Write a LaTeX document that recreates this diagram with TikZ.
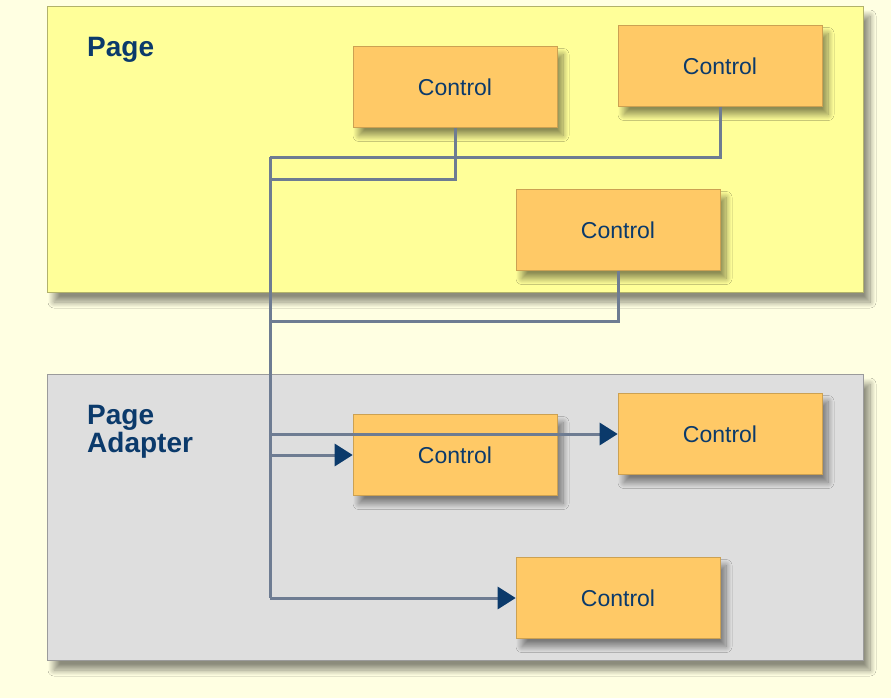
\documentclass[tikz,border=0pt]{standalone}
\usepackage{fontspec}
\setmainfont{Liberation Sans}
\usepackage{tikz}
\usetikzlibrary{arrows.meta,shadows.blur}

\definecolor{bgyellow}{HTML}{FFFFE2}
\definecolor{pageyellow}{HTML}{FFFF99}
\definecolor{adaptergray}{HTML}{DEDEDE}
\definecolor{ctrlorange}{HTML}{FFC966}
\definecolor{navy}{HTML}{0B3A6B}
\definecolor{wire}{HTML}{6E7C92}

\begin{document}
\begin{tikzpicture}[x=1pt,y=-1pt,
  panel/.style={rectangle, draw=#1!70!black, line width=0.8pt, minimum width=816pt, minimum height=286pt, inner sep=0pt,
    fill=#1, blur shadow={shadow xshift=7pt, shadow yshift=-10pt, shadow opacity=45, shadow blur radius=6pt, shadow blur steps=12}},
  control/.style={rectangle, draw=ctrlorange!80!black, line width=0.6pt, fill=ctrlorange, minimum width=204pt, minimum height=81pt,
    inner sep=0pt, text=navy, font=\fontsize{23}{26}\selectfont,
    blur shadow={shadow xshift=6pt, shadow yshift=-8pt, shadow opacity=45, shadow blur radius=6pt, shadow blur steps=12}},
  title/.style={anchor=north west, align=left, text=navy, inner sep=0pt, font=\fontsize{28}{28}\selectfont\bfseries},
  link/.style={draw=wire, line width=3pt},
  feed/.style={link, -{Triangle[length=18pt,width=22pt,fill=navy,color=navy]}}]
		\useasboundingbox (0,0) rectangle (891,698);
		\fill[bgyellow] (0,0) rectangle (891,698);
		% containers
		\node[panel=pageyellow] (page) at (455,149) {};
		\node[panel=adaptergray] (adapter) at (455,517) {};
		\node[title] (pagelbl) at (87,37) {Page};
		\node[title] (adapterlbl) at (87,405) {Page\\Adapter};
		% controls on the page
		\node[control] (c1) at (455,87) {Control};
		\node[control] (c2) at (720,66) {Control};
		\node[control] (c3) at (618,230) {Control};
		% controls on the adapter
		\node[control] (c4) at (455,455) {Control};
		\node[control] (c5) at (720,434) {Control};
		\node[control] (c6) at (618,598) {Control};
		% bus points
		\coordinate (b1) at (270,157);
		\coordinate (b2) at (270,179);
		\coordinate (b3) at (270,321);
		\coordinate (b4) at (270,434);
		\coordinate (b5) at (270,455);
		\coordinate (b6) at (270,598);
		\path[link]
			(c2.south) |- (b1)
			(c1.south) |- (b2)
			(c3.south) |- (b3)
			(b1) -- (b6);
		\draw[feed] (b4) -- (c5.west);
		\draw[feed] (b5) -- (c4.west);
		\draw[feed] (b6) -- (c6.west);
	\end{tikzpicture}
\end{document}
